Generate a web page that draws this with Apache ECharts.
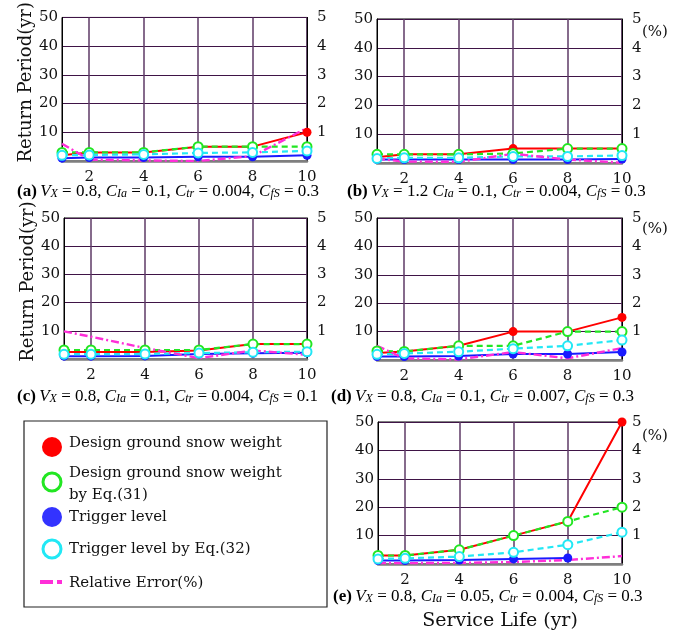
<!DOCTYPE html>
<html>
<head>
<meta charset="utf-8">
<script src="https://cdn.jsdelivr.net/npm/echarts@6/dist/echarts.min.js"></script>
<style>
  html, body { margin: 0; padding: 0; background: #fff; }
  #chart { width: 697px; height: 635px; }
</style>
</head>
<body>
<div id="chart"></div>
<script>
// service life (yr) on the x axis
const serviceLife = [1, 2, 4, 6, 8, 10];
const xTicks = [2, 4, 6, 8, 10];

// (a) Vx=0.8, CIa=0.1, Ctr=0.004, CfS=0.3
const snowA = [2, 3, 3, 5, 5, 10];
const snowEqA = [3, 3, 3, 5, 5, 5];
const trigA = [1, 1.2, 1.2, 1.5, 1.5, 2];
const trigEqA = [2, 2.1, 2.3, 2.8, 3, 3.5];
const errA = [0.6, 0.05, 0.02, 0, 0.17, 1.15];

// (b) Vx=1.2
const snowB = [2, 3, 3, 5, 5, 5];
const snowEqB = [3, 3, 3, 3.3, 5, 5];
const trigB = [1.2, 1.2, 1.2, 1.2, 1.2, 1.4];
const trigEqB = [1.6, 1.8, 1.8, 2.3, 2.3, 2.6];
const errB = [0.15, 0.05, 0.04, 0.32, 0.12, 0.01];

// (c) CfS=0.1
const snowC = [2.5, 2.5, 2.5, 3, 5.3, 5.3];
const snowEqC = [3.2, 3.2, 3.2, 3.2, 5.3, 5.3];
const trigC = [1, 1, 1.1, 1.8, 2, 2.2];
const trigEqC = [1.7, 1.7, 1.8, 2.1, 2.4, 2.6];
const errC = [0.98, 0.79, 0.39, 0.03, 0.3, 0.15];

// (d) Ctr=0.007
const snowD = [2.5, 3, 5, 10, 10, 15];
const snowEqD = [3.2, 3, 5, 5, 10, 10];
const trigD = [1.2, 1.2, 1.4, 2.1, 2.1, 2.8];
const trigEqD = [2, 2.3, 2.9, 4, 5, 7];
const errD = [0.5, 0.06, 0.02, 0.28, 0.06, 0.42];

// (e) CIa=0.05
const snowE = [3, 3, 5, 10, 15, 50];
const snowEqE = [3, 3, 5, 10, 15, 20];
const trigE = [1.2, 1.2, 1.4, 1.8, 2.1, null];
const trigEqE = [1.8, 2, 2.6, 4.1, 6.8, 11.2];
const errE = [0.03, 0.03, 0.04, 0.07, 0.14, 0.28];

const panels = [
  { snow: snowA, snowEq: snowEqA, trig: trigA, trigEq: trigEqA, err: errA },
  { snow: snowB, snowEq: snowEqB, trig: trigB, trigEq: trigEqB, err: errB },
  { snow: snowC, snowEq: snowEqC, trig: trigC, trigEq: trigEqC, err: errC },
  { snow: snowD, snowEq: snowEqD, trig: trigD, trigEq: trigEqD, err: errD },
  { snow: snowE, snowEq: snowEqE, trig: trigE, trigEq: trigEqE, err: errE }
];

const grids = [
  { left: 62, top: 17, width: 245, height: 144 },
  { left: 377, top: 19, width: 245, height: 144 },
  { left: 64, top: 218, width: 243, height: 141 },
  { left: 377, top: 218, width: 245, height: 142 },
  { left: 378, top: 422, width: 244, height: 142 }
];

const FONT = 'DejaVu Serif';
const CAPFONT = 'Liberation Serif';
const RED = '#ff0000', GREEN = '#22e622', BLUE = '#1a1aff', CYAN = '#22e8f5', MAGENTA = '#ff2ed8';
const vGrid = '#5e3a66', hGrid = '#3f1446';

const pairs = (ys) => serviceLife.map((x, i) => [x, ys[i]]);

const xAxes = [], yAxes = [], series = [];
panels.forEach((p, i) => {
  xAxes.push({
    type: 'value', gridIndex: i, min: 1, max: 10,
    name: i === 4 ? 'Service Life (yr)' : '',
    nameLocation: 'middle', nameGap: 48,
    nameTextStyle: { fontFamily: FONT, fontSize: 19, color: '#111' },
    axisLine: { lineStyle: { color: '#7f7f7f', width: 2.5 } },
    axisTick: { show: false, customValues: xTicks },
    axisLabel: { customValues: xTicks, margin: 9, fontFamily: FONT, fontSize: 15, color: '#111' },
    splitLine: { show: true, lineStyle: { color: vGrid, width: 1.5 } }
  });
  const showName = (i === 0 || i === 2);
  yAxes.push({
    type: 'value', gridIndex: i, min: 0, max: 50, interval: 10,
    name: showName ? 'Return Period(yr)' : '',
    nameLocation: 'middle', nameGap: 27,
    nameTextStyle: { fontFamily: FONT, fontSize: 18, color: '#111', padding: [0, 0, 0, 14] },
    axisLine: { show: true, lineStyle: { color: '#000', width: 1 } },
    axisTick: { show: false },
    axisLabel: { margin: 4, fontFamily: FONT, fontSize: 15, color: '#111',
      formatter: (v) => v === 0 ? '' : v },
    splitLine: { show: true, lineStyle: { color: hGrid, width: 1.2 } }
  });
  yAxes.push({
    type: 'value', gridIndex: i, position: 'right', min: 0, max: 5, interval: 1,
    axisLine: { show: true, lineStyle: { color: '#000', width: 1 } },
    axisTick: { show: false },
    axisLabel: { margin: 10, fontFamily: FONT, fontSize: 15, color: '#111',
      formatter: (v) => v === 0 ? '' : v },
    splitLine: { show: false }
  });

  const base = { type: 'line', xAxisIndex: i, yAxisIndex: 2 * i, animation: false, symbolSize: 9, connectNulls: false };
  series.push(Object.assign({}, base, {
    name: 'Design ground snow weight', data: pairs(p.snow),
    symbol: 'circle', itemStyle: { color: RED },
    lineStyle: { color: RED, width: 2 }
  }));
  series.push(Object.assign({}, base, {
    name: 'Design ground snow weight by Eq.(31)', data: pairs(p.snowEq),
    symbol: 'emptyCircle', itemStyle: { color: GREEN, borderWidth: 1.6 },
    lineStyle: { color: GREEN, width: 2.2, type: [6, 4] }
  }));
  series.push(Object.assign({}, base, {
    name: 'Trigger level', data: pairs(p.trig),
    symbol: 'circle', itemStyle: { color: BLUE },
    lineStyle: { color: BLUE, width: 2 }
  }));
  series.push(Object.assign({}, base, {
    name: 'Trigger level by Eq.(32)', data: pairs(p.trigEq),
    symbol: 'emptyCircle', itemStyle: { color: CYAN, borderWidth: 1.6 },
    lineStyle: { color: CYAN, width: 2.2, type: [6, 4] }
  }));
  series.push(Object.assign({}, base, {
    name: 'Relative Error(%)', data: pairs(p.err), yAxisIndex: 2 * i + 1,
    symbol: 'none',
    lineStyle: { color: MAGENTA, width: 2.4, type: [8, 3, 2, 3] }
  }));
});

// captions under each panel
const capRich = {
  b: { fontFamily: CAPFONT, fontWeight: 'bold', fontSize: 17, color: '#111' },
  n: { fontFamily: CAPFONT, fontSize: 17, color: '#111' },
  i: { fontFamily: CAPFONT, fontStyle: 'italic', fontSize: 17, color: '#111' },
  s: { fontFamily: CAPFONT, fontStyle: 'italic', fontSize: 12, color: '#111', verticalAlign: 'bottom', lineHeight: 14 }
};
function caption(tag, vx, cia, ctr, cfs, sep) {
  return '{b|(' + tag + ')} {i|V}{s|X}{n| = ' + vx + sep + '}{i|C}{s|Ia}{n| = ' + cia +
    ', }{i|C}{s|tr}{n| = ' + ctr + ', }{i|C}{s|fS}{n| = ' + cfs + '}';
}
const captions = [
  { x: 17, y: 193, t: caption('a', '0.8', '0.1', '0.004', '0.3', ', ') },
  { x: 347, y: 193, t: caption('b', '1.2', '0.1', '0.004', '0.3', ' ') },
  { x: 17, y: 398, t: caption('c', '0.8', '0.1', '0.004', '0.1', ', ') },
  { x: 331, y: 398, t: caption('d', '0.8', '0.1', '0.007', '0.3', ', ') },
  { x: 333, y: 598, t: caption('e', '0.8', '0.05', '0.004', '0.3', ', ') }
];
const pctLabels = [[642, 25], [642, 222], [642, 429]];

const legendFont = { fontFamily: FONT, fontSize: 15, fill: '#111' };
const graphic = captions.map((c) => ({
  type: 'text', left: c.x, top: c.y - 10,
  style: { text: c.t, rich: capRich }
})).concat(pctLabels.map((q) => ({
  type: 'text', left: q[0], top: q[1],
  style: { text: '(%)', fontFamily: FONT, fontSize: 15, fill: '#111' }
}))).concat([
  { type: 'rect', shape: { x: 24, y: 421, width: 303, height: 186 },
    style: { fill: '#fff', stroke: '#222', lineWidth: 1.2 } },
  { type: 'circle', shape: { cx: 52, cy: 447, r: 10 }, style: { fill: RED } },
  { type: 'circle', shape: { cx: 52, cy: 482, r: 9 }, style: { fill: '#fff', stroke: GREEN, lineWidth: 3 } },
  { type: 'circle', shape: { cx: 52, cy: 517, r: 10 }, style: { fill: '#3333ff' } },
  { type: 'circle', shape: { cx: 52, cy: 549, r: 9 }, style: { fill: '#fff', stroke: CYAN, lineWidth: 3 } },
  { type: 'rect', shape: { x: 40, y: 580, width: 13, height: 4 }, style: { fill: MAGENTA } },
  { type: 'rect', shape: { x: 57, y: 580, width: 5, height: 4 }, style: { fill: MAGENTA } },
  { type: 'text', left: 69, top: 436, style: Object.assign({ text: 'Design ground snow weight' }, legendFont) },
  { type: 'text', left: 69, top: 466, style: Object.assign({ text: 'Design ground snow weight' }, legendFont) },
  { type: 'text', left: 69, top: 488, style: Object.assign({ text: 'by Eq.(31)' }, legendFont) },
  { type: 'text', left: 69, top: 510, style: Object.assign({ text: 'Trigger level' }, legendFont) },
  { type: 'text', left: 69, top: 542, style: Object.assign({ text: 'Trigger level by Eq.(32)' }, legendFont) },
  { type: 'text', left: 69, top: 576, style: Object.assign({ text: 'Relative Error(%)' }, legendFont) }
]);

const chart = echarts.init(document.getElementById('chart'));
chart.setOption({
  backgroundColor: '#fff',
  animation: false,
  grid: grids.map((g) => Object.assign({ show: true, borderColor: '#000', borderWidth: 1, backgroundColor: 'transparent' }, g)),
  xAxis: xAxes,
  yAxis: yAxes,
  series: series,
  graphic: graphic
});
</script>
</body>
</html>
